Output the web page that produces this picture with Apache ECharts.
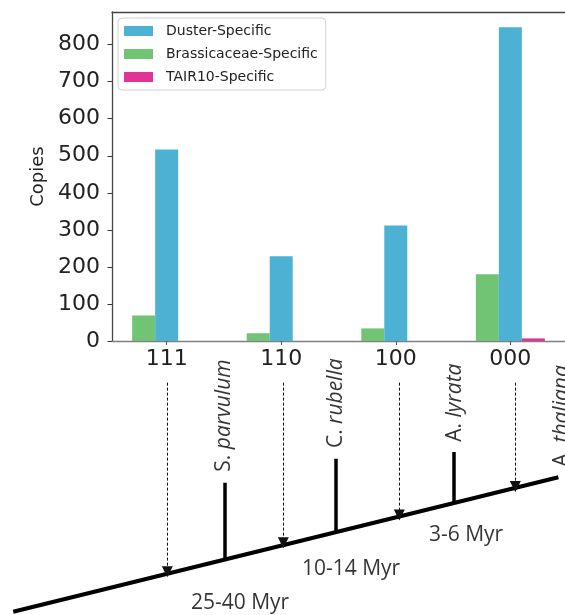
<!DOCTYPE html>
<html><head><meta charset="utf-8">
<script src="https://cdn.jsdelivr.net/npm/echarts@6/dist/echarts.min.js"></script>
<style>html,body{margin:0;padding:0;background:#fff}#c{width:565px;height:615px}</style>
</head><body><div id="c"></div>
<script>
// ---- bar chart data ----
const categories = ['111', '110', '100', '000'];
const categoryPos = [0, 1, 2, 3];
const dusterSpecific = [517, 229, 312, 847];
const brassicaceaeSpecific = [69, 21, 34, 180];
const tair10Specific = [0, 0, 0, 7];
const yTicks = [0, 100, 200, 300, 400, 500, 600, 700, 800];
const seriesNames = ['Duster-Specific', 'Brassicaceae-Specific', 'TAIR10-Specific'];

// ---- phylogeny diagram (x in category units, y in diagram units 0-100) ----
const backbone = [[-1.328, 1.2], [3.371, 50.07]];
const branchX = [0.497, 1.454, 2.466];
const branchBase = [20.2, 30.1, 40.7];
const branchTop = [48.1, 56.8, 59.3];
const speciesInitials = ['S.', 'C.', 'A.', 'A.'];
const speciesNames = ['parvulum', 'rubella', 'lyrata', 'thaliana'];
const speciesLabelPos = [[0.489, 52.1], [1.454, 60.7], [2.48, 63.0], [3.40, 53.9]];
const arrowTop = 84.5;
const arrowTip = [15.7, 26.3, 36.4, 46.7];
const divergenceLabels = ['25-40 Myr', '10-14 Myr', '3-6 Myr'];
const divergencePos = [[0.627, 4.36], [1.584, 16.7], [2.575, 29.1]];

const colors = { duster: '#4cb1d3', brass: '#71c474', tair: '#e03596' };
const mono = 'DejaVu Sans';
const sans = 'Open Sans';

const pair = (xs, ys) => xs.map((x, i) => [x, ys[i]]);

const chart = echarts.init(document.getElementById('c'), null, { renderer: 'canvas' });
chart.setOption({
  animation: false,
  backgroundColor: '#fff',
  grid: [
    { left: 112, top: 12, width: 459, height: 329 },
    { left: 0, top: 340, width: 565, height: 275 }
  ],
  legend: {
    orient: 'vertical', left: 118, top: 18,
    data: seriesNames,
    icon: 'rect', itemWidth: 29, itemHeight: 10, itemGap: 9,
    padding: [6, 8, 6, 6],
    borderColor: '#d0d0d0', borderWidth: 1, borderRadius: 4, backgroundColor: '#fff',
    textStyle: { fontFamily: mono, fontSize: 14, lineHeight: 14, color: '#222', padding: [0, 0, 0, 8] }
  },
  xAxis: [
    {
      type: 'value', gridIndex: 0, min: -0.477, max: 3.477,
      axisLine: { show: true, onZero: false, lineStyle: { color: '#808080', width: 1.3 } },
      axisTick: { show: true, length: 4, customValues: categoryPos, lineStyle: { color: '#555' } },
      axisLabel: {
        customValues: categoryPos, margin: 7,
        fontFamily: mono, fontSize: 22, color: '#222',
        formatter: v => categories[Math.round(v)]
      },
      splitLine: { show: false }
    },
    {
      type: 'value', gridIndex: 0, position: 'top', min: -0.477, max: 3.477,
      axisLine: { show: true, onZero: false, lineStyle: { color: '#444', width: 1.3 } },
      axisTick: { show: false }, axisLabel: { show: false }, splitLine: { show: false }
    },
    {
      type: 'value', gridIndex: 1, min: -1.442, max: 3.428, show: false
    }
  ],
  yAxis: [
    {
      type: 'value', gridIndex: 0, min: 0, max: 888, position: 'left',
      name: 'Copies', nameLocation: 'middle', nameGap: 64,
      nameTextStyle: { fontFamily: mono, fontSize: 18, color: '#222' },
      axisLine: { show: true, onZero: false, lineStyle: { color: '#444', width: 1.3 } },
      axisTick: { show: true, length: 4.5, customValues: yTicks, lineStyle: { color: '#333' } },
      axisLabel: { customValues: yTicks, margin: 12, fontFamily: mono, fontSize: 22, color: '#222' },
      splitLine: { show: false }
    },
    { type: 'value', gridIndex: 1, min: 0, max: 100, show: false }
  ],
  series: [
    {
      name: 'Brassicaceae-Specific', type: 'bar', xAxisIndex: 0, yAxisIndex: 0,
      barWidth: 23, barGap: '0%', itemStyle: { color: colors.brass },
      data: pair(categoryPos, brassicaceaeSpecific)
    },
    {
      name: 'Duster-Specific', type: 'bar', xAxisIndex: 0, yAxisIndex: 0,
      barWidth: 23, barGap: '0%', itemStyle: { color: colors.duster },
      data: pair(categoryPos, dusterSpecific)
    },
    {
      name: 'TAIR10-Specific', type: 'bar', xAxisIndex: 0, yAxisIndex: 0,
      barWidth: 23, barGap: '0%', itemStyle: { color: colors.tair },
      data: pair(categoryPos, tair10Specific)
    },
    // backbone (time axis of the tree)
    {
      type: 'lines', coordinateSystem: 'cartesian2d', xAxisIndex: 2, yAxisIndex: 1,
      silent: true, lineStyle: { color: '#000', width: 4, opacity: 1 },
      data: [{ coords: backbone }]
    },
    // species branches
    {
      type: 'lines', coordinateSystem: 'cartesian2d', xAxisIndex: 2, yAxisIndex: 1,
      silent: true, lineStyle: { color: '#000', width: 3.5, opacity: 1 },
      data: branchX.map((x, i) => ({ coords: [[x, branchBase[i]], [x, branchTop[i]]] }))
    },
    // dashed arrows from categories to tree
    {
      type: 'lines', coordinateSystem: 'cartesian2d', xAxisIndex: 2, yAxisIndex: 1,
      silent: true, symbol: ['none', 'triangle'], symbolSize: [11, 11],
      lineStyle: { color: '#111', width: 1, type: [3, 2], opacity: 1 },
      data: categoryPos.map((x, i) => ({ coords: [[x, arrowTop], [x, arrowTip[i]]] }))
    },
    // species labels
    {
      type: 'scatter', xAxisIndex: 2, yAxisIndex: 1, silent: true,
      symbolSize: 0.1, itemStyle: { color: 'rgba(0,0,0,0)' },
      label: {
        show: true, position: 'inside', rotate: 90, align: 'left', verticalAlign: 'middle',
        formatter: p => '{n|' + speciesInitials[p.dataIndex] + ' }{i|' + speciesNames[p.dataIndex] + '}',
        rich: {
          n: { fontFamily: sans, fontSize: 21, color: '#000' },
          i: { fontFamily: sans, fontSize: 21, fontStyle: 'italic', color: '#000' }
        }
      },
      data: speciesLabelPos
    },
    // divergence time labels
    {
      type: 'scatter', xAxisIndex: 2, yAxisIndex: 1, silent: true,
      symbolSize: 0.1, itemStyle: { color: 'rgba(0,0,0,0)' },
      label: {
        show: true, position: 'inside', align: 'center', verticalAlign: 'middle',
        fontFamily: sans, fontSize: 21, color: '#000',
        formatter: p => divergenceLabels[p.dataIndex]
      },
      data: divergencePos
    }
  ]
});
</script>
</body></html>
